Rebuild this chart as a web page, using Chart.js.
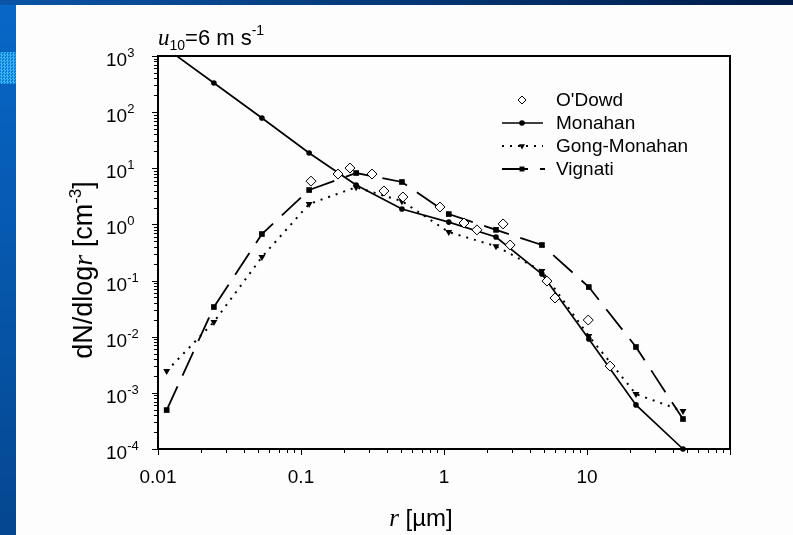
<!DOCTYPE html>
<html><head><meta charset="utf-8">
<script src="https://cdn.jsdelivr.net/npm/chart.js@4.4.1/dist/chart.umd.min.js"></script>
<style>
html,body{margin:0;padding:0;background:#fff;overflow:hidden}
#wrap{position:relative;width:793px;height:535px;background:#fdfdfd}
#lbar{position:absolute;left:0;top:0;width:16px;height:535px;background:linear-gradient(#0767c8,#054790)}
#tbar{position:absolute;left:0;top:0;width:793px;height:5px;background:linear-gradient(90deg,#0b55a6,#001c48)}
#tex{position:absolute;left:0;top:52px;width:16px;height:32px;background:repeating-conic-gradient(#3ab4f4 0 25%,#0a7ad2 0 50%) 0 0/3px 3px}
canvas{position:absolute;left:0;top:0}
</style></head>
<body><div id="wrap"><div id="lbar"></div><div id="tbar"></div><div id="tex"></div><canvas id="c" width="793" height="535"></canvas></div>
<script>
// radius bins shared by the model curves [µm]
const radii = [0.0115, 0.0246, 0.0533, 0.114, 0.243, 0.508, 1.08, 2.31, 4.84, 10.3, 22.0, 46.9];
const monahan = [1350, 330, 78.7, 18.7, 5.03, 1.88, 1.10, 0.597, 0.131, 0.0091, 0.00061, 0.0001];
const gongMonahan = [0.00245, 0.0183, 0.263, 2.31, 4.6, 2.6, 0.73, 0.41, 0.148, 0.0103, 0.00095, 0.000475];
const vignati = [0.000494, 0.0338, 0.675, 4.1, 8.24, 5.7, 1.53, 0.80, 0.43, 0.0767, 0.00656, 0.000342];
// O'Dowd observations
const odowdR = [0.1175, 0.1815, 0.22, 0.314, 0.38, 0.516, 0.937, 1.38, 1.70, 2.59, 2.9, 5.25, 5.97, 10.2, 14.5];
const odowdV = [5.9, 7.9, 10.1, 7.9, 3.94, 3.08, 2.04, 1.06, 0.80, 1.02, 0.43, 0.098, 0.0489, 0.0198, 0.003];
const xTickLabels = ['0.01', '0.1', '1', '10'];
const yExponents = [-4, -3, -2, -1, 0, 1, 2, 3];
const legendLabels = ["O'Dowd", 'Monahan', 'Gong-Monahan', 'Vignati'];

const pts = (xs, ys) => xs.map((x, i) => ({x, y: ys[i]}));
const SANS = '"Liberation Sans", Arial, sans-serif';
const SERIF = '"Liberation Serif", "Times New Roman", serif';
const CLIP = {left: 6, top: 0, right: 6, bottom: 6};

const datasets = [
  {label: legendLabels[0], data: pts(odowdR, odowdV), showLine: false, pointStyle: 'rectRot', pointRadius: 5,
   borderColor: '#000', backgroundColor: '#fff', pointBorderWidth: 1, clip: CLIP},
  {label: legendLabels[1], data: pts(radii, monahan), borderColor: '#000', borderWidth: 1.7, pointStyle: 'circle',
   pointRadius: 2.8, pointBackgroundColor: '#000', pointBorderWidth: 0, clip: CLIP},
  {label: legendLabels[2], data: pts(radii, gongMonahan), borderColor: '#000', borderWidth: 2, borderDash: [2, 6],
   pointStyle: 'triangle', rotation: 180, pointRadius: 4, pointBackgroundColor: '#000', pointBorderWidth: 0, clip: CLIP},
  {label: legendLabels[3], data: pts(radii, vignati), borderColor: '#000', borderWidth: 1.8, borderDash: [26, 12],
   pointStyle: 'rect', pointRadius: 4, pointBackgroundColor: '#000', pointBorderWidth: 0, clip: CLIP}
];

function drawRich(ctx, items, startX, baseY) {
  let cx = startX;
  items.forEach(it => {
    ctx.font = it.font;
    ctx.fillText(it.t, cx, baseY + (it.dy || 0));
    cx += ctx.measureText(it.t).width;
  });
  return cx;
}
function richWidth(ctx, items) {
  let w = 0;
  items.forEach(it => { ctx.font = it.font; w += ctx.measureText(it.t).width; });
  return w;
}

const decor = {
  id: 'decor',
  beforeDatasetsDraw(chart) {
    const {ctx, chartArea: a, scales: {x, y}} = chart;
    ctx.save();
    ctx.strokeStyle = '#000';
    ctx.lineWidth = 2;
    ctx.strokeRect(a.left, a.top, a.right - a.left, a.bottom - a.top);
    ctx.lineWidth = 1;
    ctx.beginPath();
    for (let k = -4; k <= 3; k++) {
      for (let m = 1; m <= 9; m++) {
        if (k === 3 && m > 1) break;
        const py = Math.round(y.getPixelForValue(m * Math.pow(10, k))) + 0.5;
        const len = m === 1 ? 6 : 4;
        ctx.moveTo(a.left - len, py); ctx.lineTo(a.left, py);
      }
    }
    for (let k = -2; k <= 2; k++) {
      for (let m = 1; m <= 9; m++) {
        if (k === 2 && m > 1) break;
        const px = Math.round(x.getPixelForValue(m * Math.pow(10, k))) + 0.5;
        const len = m === 1 ? 6 : 4;
        ctx.moveTo(px, a.bottom); ctx.lineTo(px, a.bottom + len);
      }
    }
    ctx.stroke();
    ctx.restore();
  },
  afterDraw(chart) {
    const {ctx, scales: {x, y}} = chart;
    ctx.save();
    ctx.fillStyle = '#000';
    // y tick labels 10^k
    yExponents.forEach(k => {
      const py = y.getPixelForValue(Math.pow(10, k));
      ctx.textAlign = 'left';
      ctx.textBaseline = 'alphabetic';
      drawRich(ctx, [{t: '10', font: '19px ' + SANS}, {t: String(k), font: '13px ' + SANS, dy: -9}], 106, py + 10);
    });
    // x tick labels
    ctx.font = '19px ' + SANS;
    ctx.textAlign = 'center';
    ctx.textBaseline = 'middle';
    xTickLabels.forEach(t => ctx.fillText(t, x.getPixelForValue(parseFloat(t)), 478));
    ctx.textAlign = 'left';
    ctx.textBaseline = 'alphabetic';
    // x title
    const xt = [{t: 'r', font: 'italic 25px ' + SERIF}, {t: ' [\u00B5m]', font: '24px ' + SANS}];
    drawRich(ctx, xt, 421 - richWidth(ctx, xt) / 2, 526);
    // y title rotated
    const yt = [{t: 'dN/dlog', font: '27px ' + SANS}, {t: 'r', font: 'italic 28px ' + SERIF},
      {t: ' [cm', font: '27px ' + SANS}, {t: '-3', font: '17px ' + SANS, dy: -11}, {t: ']', font: '27px ' + SANS}];
    ctx.save();
    ctx.translate(92, 270);
    ctx.rotate(-Math.PI / 2);
    drawRich(ctx, yt, -richWidth(ctx, yt) / 2, 0);
    ctx.restore();
    // top annotation u10 = 6 m s^-1
    const ann = [{t: 'u', font: 'italic 23px ' + SERIF}, {t: '10', font: '14px ' + SANS, dy: 5},
      {t: '=6 m s', font: '22px ' + SANS}, {t: '-1', font: '14px ' + SANS, dy: -10}];
    drawRich(ctx, ann, 158, 45);
    // legend
    const rows = [100, 123, 146, 169];
    const lx0 = 502, lx1 = 543, mx = 522;
    ctx.font = '19px ' + SANS;
    ctx.textBaseline = 'middle';
    legendLabels.forEach((t, i) => ctx.fillText(t, 556, rows[i] + 1));
    ctx.strokeStyle = '#000';
    ctx.lineWidth = 1.7; ctx.setLineDash([]);
    ctx.beginPath(); ctx.moveTo(lx0, rows[1]); ctx.lineTo(lx1, rows[1]); ctx.stroke();
    ctx.lineWidth = 2; ctx.setLineDash([2, 6]);
    ctx.beginPath(); ctx.moveTo(lx0, rows[2]); ctx.lineTo(lx1, rows[2]); ctx.stroke();
    ctx.lineWidth = 1.8; ctx.setLineDash([26, 12]);
    ctx.beginPath(); ctx.moveTo(lx0, rows[3]); ctx.lineTo(lx1 + 2, rows[3]); ctx.stroke();
    ctx.setLineDash([]);
    const ds = chart.data.datasets;
    ctx.fillStyle = '#fff'; ctx.strokeStyle = '#000'; ctx.lineWidth = 1;
    Chart.helpers.drawPoint(ctx, {pointStyle: 'rectRot', radius: 4, borderWidth: 1, rotation: 0}, mx, rows[0]);
    [1, 2, 3].forEach(i => {
      ctx.fillStyle = '#000'; ctx.strokeStyle = '#000'; ctx.lineWidth = 0.01;
      Chart.helpers.drawPoint(ctx, {pointStyle: ds[i].pointStyle, radius: i === 1 ? 2.8 : 3.5, borderWidth: 0, rotation: ds[i].rotation || 0}, mx, rows[i]);
    });
    ctx.restore();
  }
};

new Chart(document.getElementById('c'), {
  type: 'line',
  data: {datasets},
  options: {
    responsive: false, animation: false, events: [],
    layout: {padding: {left: 158, top: 56, right: 63, bottom: 86}},
    plugins: {legend: {display: false}, tooltip: {enabled: false}, title: {display: false}},
    elements: {line: {tension: 0}},
    scales: {
      x: {type: 'logarithmic', min: 0.01, max: 100, display: false},
      y: {type: 'logarithmic', min: 1e-4, max: 1e3, display: false}
    }
  },
  plugins: [decor]
});
</script>
</body></html>
